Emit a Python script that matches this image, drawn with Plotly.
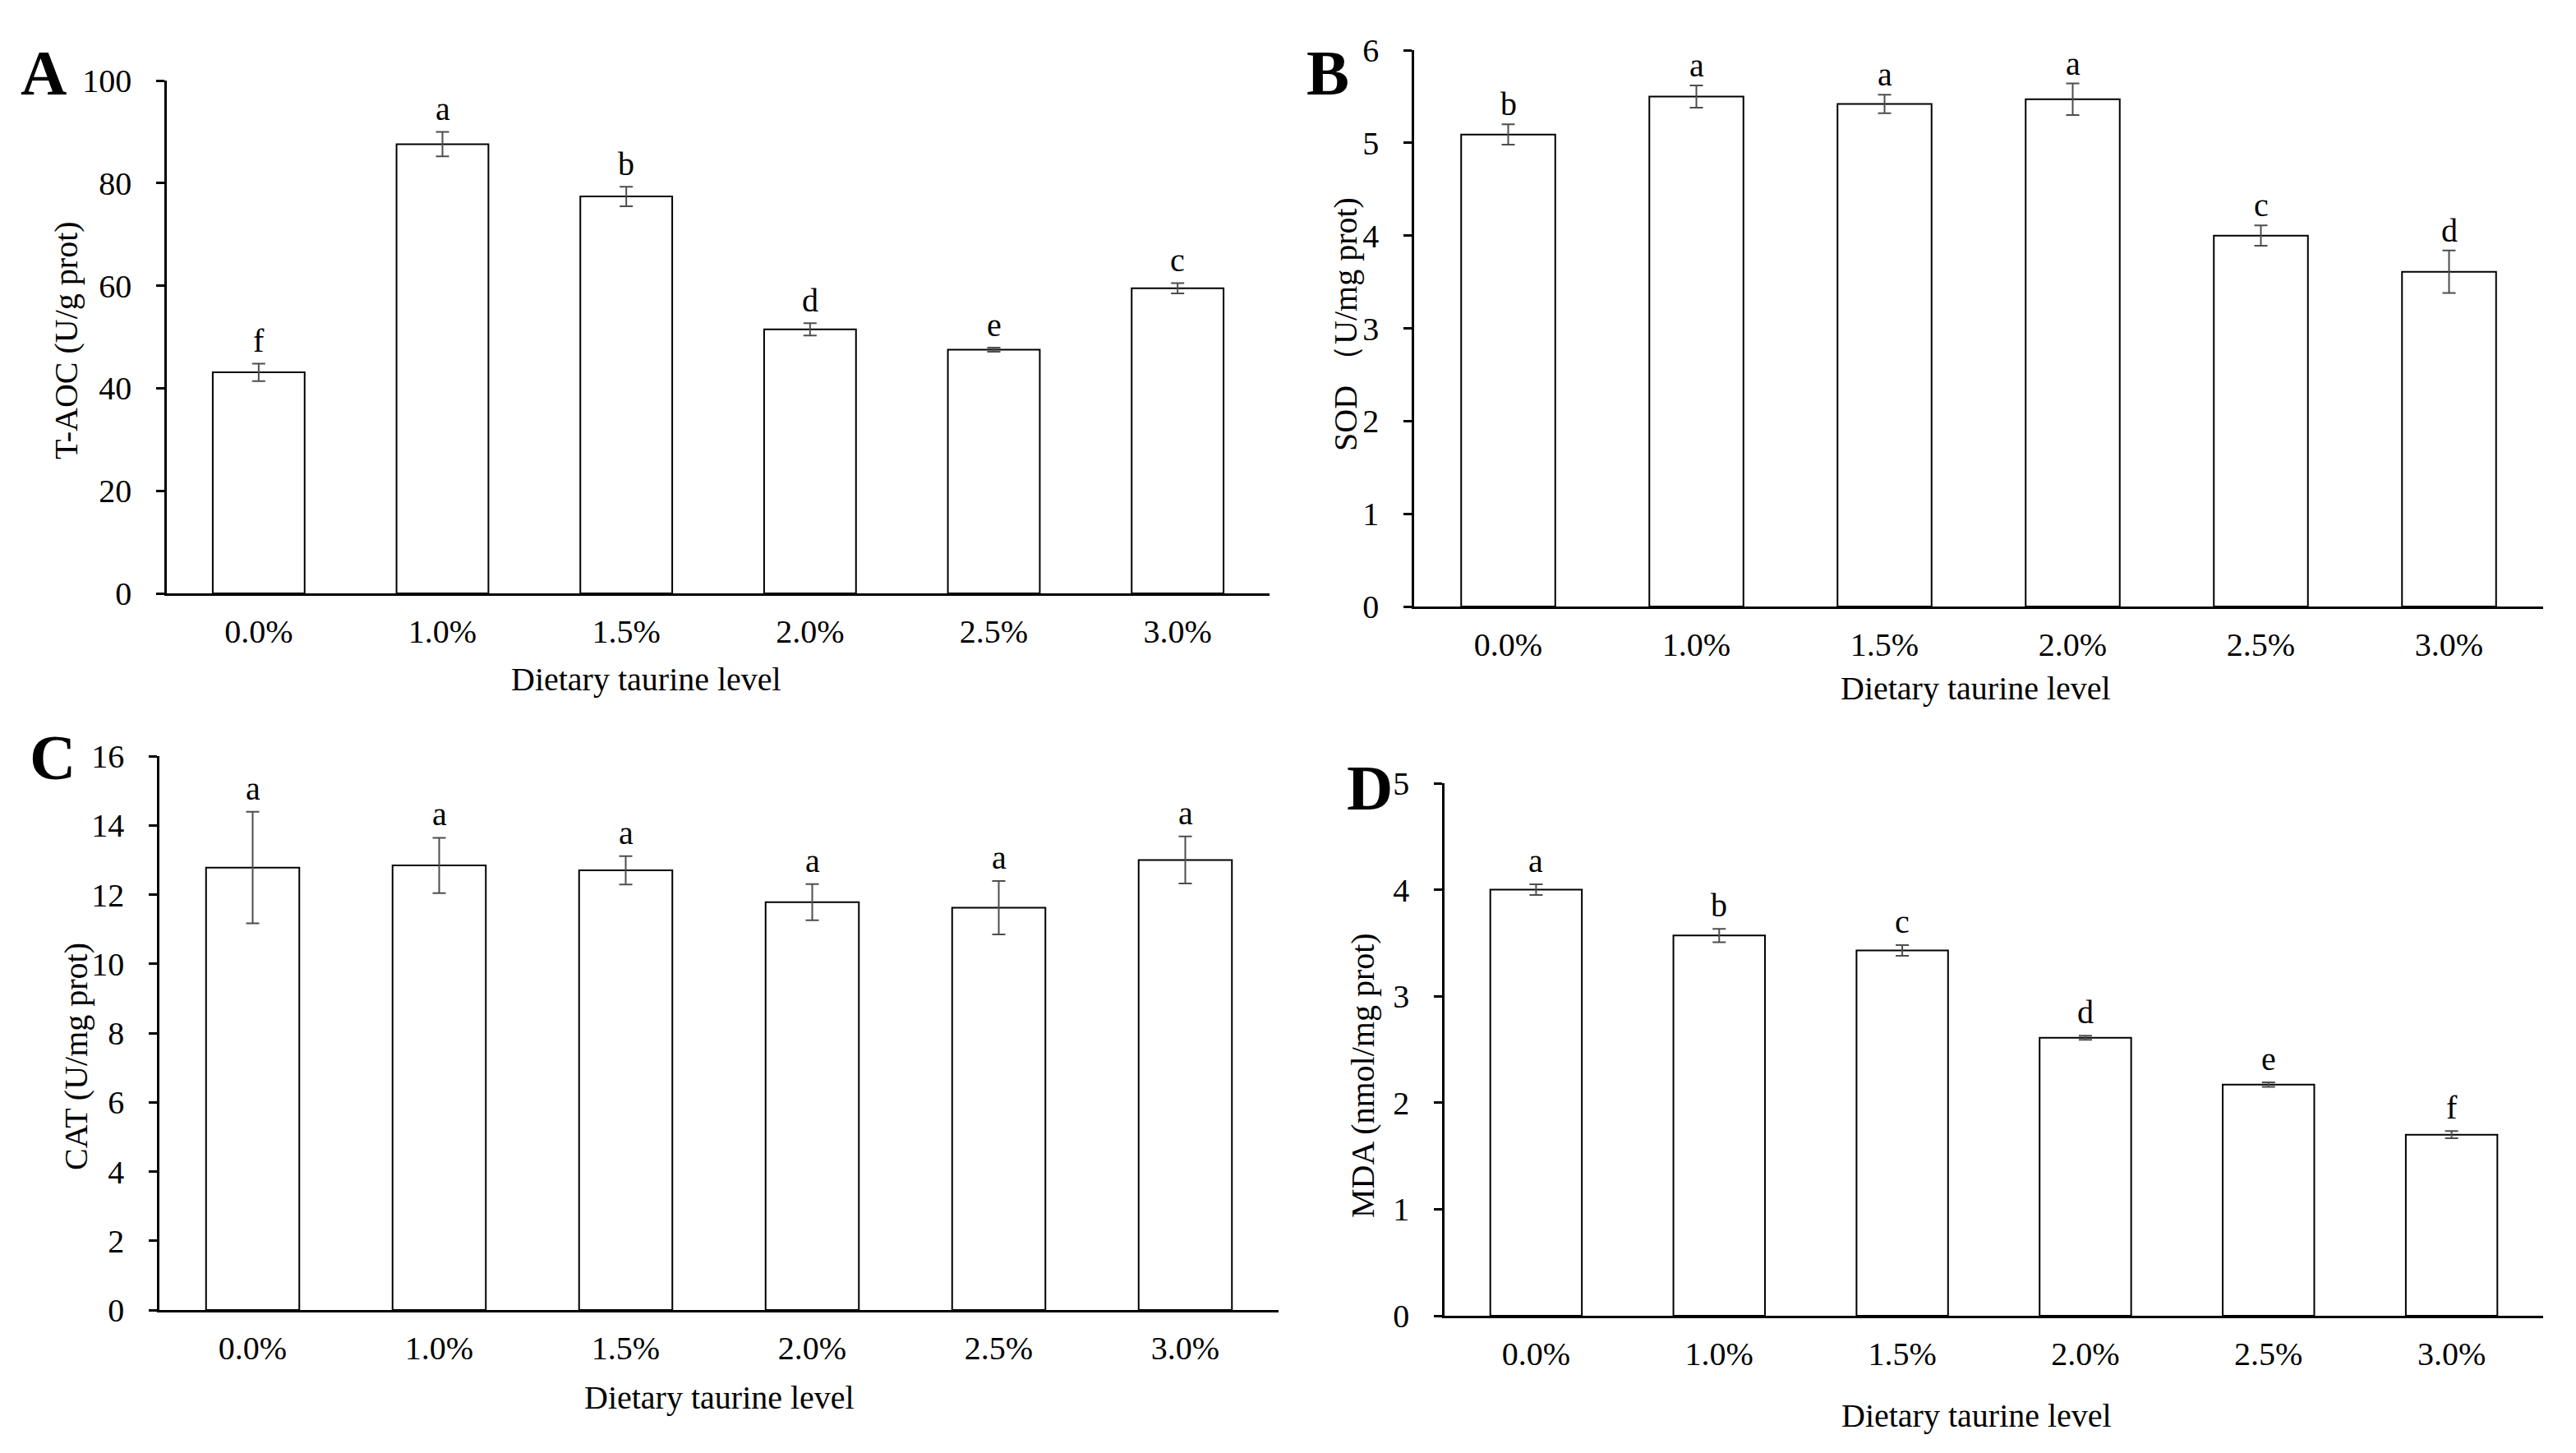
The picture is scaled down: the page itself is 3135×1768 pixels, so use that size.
import plotly.graph_objects as go

# page body has an 8 px default margin; size the figure so it fits the window
OFF = 8
W, H = 3135 - 2 * OFF, 1768 - 2 * OFF
FONT = "Liberation Serif"

categories = ["0.0%", "1.0%", "1.5%", "2.0%", "2.5%", "3.0%"]

taoc_values = [43.1, 87.6, 77.4, 51.5, 47.5, 59.5]
taoc_errors = [1.7, 2.4, 1.9, 1.2, 0.4, 1.0]
taoc_letters = ["f", "a", "b", "d", "e", "c"]

sod_values = [5.09, 5.50, 5.42, 5.47, 4.00, 3.61]
sod_errors = [0.11, 0.12, 0.10, 0.17, 0.11, 0.23]
sod_letters = ["b", "a", "a", "a", "c", "d"]

cat_values = [12.78, 12.84, 12.70, 11.78, 11.62, 13.00]
cat_errors = [1.61, 0.80, 0.41, 0.52, 0.77, 0.68]
cat_letters = ["a", "a", "a", "a", "a", "a"]

mda_values = [4.00, 3.57, 3.43, 2.61, 2.17, 1.70]
mda_errors = [0.05, 0.063, 0.05, 0.02, 0.022, 0.034]
mda_letters = ["a", "b", "c", "d", "e", "f"]

# screen-pixel layout helpers (x from left, y from top of the window)
def px(x):
    return (x - OFF) / W

def py(y):
    return 1 - (y - OFF) / H

panels = [
    dict(key="", vals=taoc_values, errs=taoc_errors, letters=taoc_letters,
         rng=[0, 100], dtick=20, x0=203, x1=1545, ytop=98, ybot=722,
         ytitle="T-AOC (U/g prot)", ytx=80, yty=414,
         xtx=786, xty=826, lab="A", labx=53, laby=88, shift=3),
    dict(key="2", vals=sod_values, errs=sod_errors, letters=sod_letters,
         rng=[0, 6], dtick=1, x0=1721, x1=3095, ytop=61, ybot=738,
         ytitle="SOD （U/mg prot)", ytx=1638, yty=395,
         xtx=2404, xty=838, lab="B", labx=1616, laby=88, shift=0),
    dict(key="3", vals=cat_values, errs=cat_errors, letters=cat_letters,
         rng=[0, 16], dtick=2, x0=194, x1=1556, ytop=920, ybot=1594,
         ytitle="CAT (U/mg prot)", ytx=92, yty=1286,
         xtx=875, xty=1700, lab="C", labx=64, laby=921, shift=4),
    dict(key="4", vals=mda_values, errs=mda_errors, letters=mda_letters,
         rng=[0, 5], dtick=1, x0=1758, x1=3095, ytop=953, ybot=1601,
         ytitle="MDA (nmol/mg prot)", ytx=1658, yty=1308,
         xtx=2405, xty=1722, lab="D", labx=1667, laby=958, shift=4),
]

fig = go.Figure()
annotations = []
layout = {}

for p in panels:
    k = p["key"]
    fig.add_trace(go.Bar(
        x=categories, y=p["vals"],
        xaxis="x" + k, yaxis="y" + k,
        width=0.5,
        marker=dict(color="white", line=dict(color="black", width=2)),
        error_y=dict(type="data", array=p["errs"], visible=True,
                     color="#4d4d4d", thickness=2, width=8),
        showlegend=False,
    ))
    layout["xaxis" + k] = dict(
        domain=[px(p["x0"]), px(p["x1"])],
        anchor="y" + k,
        type="category",
        range=[-0.5, 5.5],
        automargin=False,
        showline=True, linecolor="black", linewidth=2.5,
        ticks="", showgrid=False, zeroline=False,
        tickfont=dict(family=FONT, size=40, color="black"),
        ticklabelstandoff=9,
    )
    layout["yaxis" + k] = dict(
        domain=[py(p["ybot"]), py(p["ytop"])],
        anchor="x" + k,
        range=p["rng"], dtick=p["dtick"], tick0=0,
        automargin=False,
        showline=True, linecolor="black", linewidth=2.5,
        ticks="outside", ticklen=10, tickwidth=2.5, tickcolor="black",
        showgrid=False, zeroline=False,
        tickfont=dict(family=FONT, size=40, color="black"),
        ticklabelstandoff=22,
    )
    # significance letters
    for c, v, e, t in zip(categories, p["vals"], p["errs"], p["letters"]):
        annotations.append(dict(
            x=c, y=v + e, xref="x" + k, yref="y" + k,
            text=t, showarrow=False, yanchor="bottom", yshift=p["shift"],
            font=dict(family=FONT, size=40, color="black"),
        ))
    # y title
    annotations.append(dict(
        x=px(p["ytx"]), y=py(p["yty"]), xref="paper", yref="paper",
        text=p["ytitle"], textangle=-90, showarrow=False,
        xanchor="center", yanchor="middle",
        font=dict(family=FONT, size=40, color="black"),
    ))
    # x title
    annotations.append(dict(
        x=px(p["xtx"]), y=py(p["xty"]), xref="paper", yref="paper",
        text="Dietary taurine level", showarrow=False,
        xanchor="center", yanchor="middle",
        font=dict(family=FONT, size=40, color="black"),
    ))
    # panel label
    annotations.append(dict(
        x=px(p["labx"]), y=py(p["laby"]), xref="paper", yref="paper",
        text="<b>" + p["lab"] + "</b>", showarrow=False,
        xanchor="center", yanchor="middle",
        font=dict(family=FONT, size=78, color="black"),
    ))

fig.update_layout(
    template="none",
    width=W, height=H,
    margin=dict(l=0, r=0, t=0, b=0, pad=0, autoexpand=False),
    paper_bgcolor="white", plot_bgcolor="white",
    showlegend=False,
    annotations=annotations,
    **layout,
)

fig.write_html("out.html")
